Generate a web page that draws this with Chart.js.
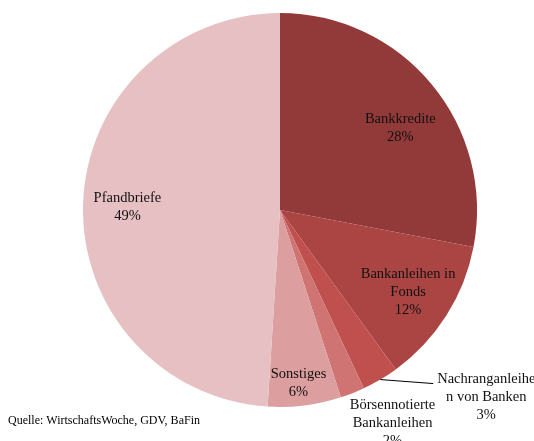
<!DOCTYPE html>
<html>
<head>
<meta charset="utf-8">
<script src="https://cdn.jsdelivr.net/npm/chart.js@4.4.0/dist/chart.umd.min.js"></script>
<style>
	html, body { margin: 0; padding: 0; background: #ffffff; }
	#wrap { position: relative; width: 534px; height: 441px; }
</style>
</head>
<body>
<div id="wrap"><canvas id="pieChart" width="534" height="441"></canvas></div>
<script>
	'use strict';

	// data
	const categories = [
		['Bankkredite'],
		['Bankanleihen in', 'Fonds'],
		['Nachranganleihe', 'n von Banken'],
		['Börsennotierte', 'Bankanleihen'],
		['Sonstiges'],
		['Pfandbriefe']
	];
	const shares = [28, 12, 3, 2, 6, 49];
	const sourceNote = 'Quelle: WirtschaftsWoche, GDV, BaFin';

	const sliceColors = ['#923a39', '#aa4543', '#c0504d', '#cf7472', '#dc9e9e', '#e7c0c3'];

	// label placement: radial factor along the slice middle + pixel nudge
	const labelPlace = [
		{ k: 0.74, dx: 8, dy: 11 },
		{ k: 0.77, dx: 0, dy: 1 },
		{ k: 1.0, dx: 106, dy: 18, leader: [53, 4] },
		{ k: 1.0, dx: 40, dy: 30 },
		{ k: 0.87, dx: -3, dy: 3 },
		{ k: 0.78, dx: 1, dy: 2 }
	];

	const pieLabels = {
		id: 'pieLabels',
		afterDatasetsDraw: function (chart) {
			const ctx = chart.ctx;
			const arcs = chart.getDatasetMeta(0).data;
			ctx.save();
			ctx.font = '14.5px "Liberation Serif", "Times New Roman", serif';
			ctx.fillStyle = '#111111';
			ctx.textAlign = 'center';
			ctx.textBaseline = 'middle';
			arcs.forEach(function (arc, i) {
				const p = arc.getProps(['x', 'y', 'startAngle', 'endAngle', 'outerRadius'], true);
				const mid = (p.startAngle + p.endAngle) / 2;
				const place = labelPlace[i];
				const ex = p.x + Math.cos(mid) * p.outerRadius * place.k;
				const ey = p.y + Math.sin(mid) * p.outerRadius * place.k;
				if (place.leader) {
					ctx.beginPath();
					ctx.strokeStyle = '#000000';
					ctx.lineWidth = 1;
					ctx.moveTo(ex, ey);
					ctx.lineTo(ex + place.leader[0], ey + place.leader[1]);
					ctx.stroke();
				}
				const lines = categories[i].concat([shares[i] + '%']);
				const lh = 18;
				const top = ey + place.dy - (lines.length - 1) * lh / 2;
				lines.forEach(function (t, j) {
					ctx.fillText(t, ex + place.dx, top + j * lh);
				});
			});
			ctx.font = '12px "Liberation Serif", "Times New Roman", serif';
			ctx.textAlign = 'left';
			ctx.fillStyle = '#000000';
			ctx.fillText(sourceNote, 8, 421);
			ctx.restore();
		}
	};

	const chart = new Chart(document.getElementById('pieChart').getContext('2d'), {
		type: 'pie',
		data: {
			labels: categories.map(function (c) { return c.join(' '); }),
			datasets: [{
				data: shares,
				backgroundColor: sliceColors,
				borderWidth: 0
			}]
		},
		options: {
			responsive: false,
			animation: false,
			layout: {
				padding: { top: 13, bottom: 34, left: 83, right: 57 }
			},
			plugins: {
				legend: { display: false },
				tooltip: { enabled: false }
			}
		},
		plugins: [pieLabels]
	});
</script>
</body>
</html>
